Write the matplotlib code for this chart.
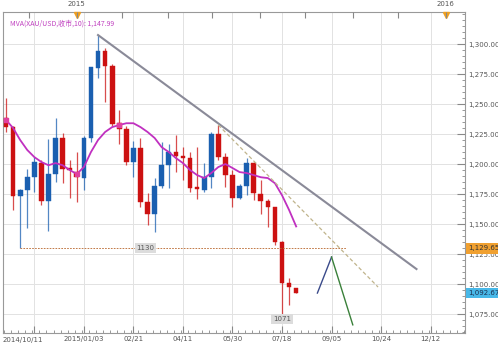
import matplotlib
matplotlib.use("Agg")
import matplotlib.pyplot as plt
import matplotlib.dates as mdates
import matplotlib.transforms as mtransforms
from matplotlib.ticker import FuncFormatter, MultipleLocator, FixedLocator
import pandas as pd

# weekly XAU/USD candles, first bar 2014-10-18
first_week = "2014-10-18"
opens = [1238, 1231, 1173, 1178, 1189, 1201, 1169, 1192, 1222, 1197, 1193, 1188,
         1222, 1280, 1294, 1282, 1234, 1229, 1202, 1213, 1168, 1158, 1182, 1199,
         1210, 1207, 1205, 1181, 1178, 1189, 1225, 1206, 1191, 1172, 1182, 1201,
         1175, 1169, 1164, 1135, 1101, 1097]
highs = [1255, 1232, 1179, 1196, 1206, 1203, 1221, 1238, 1226, 1203, 1210, 1223,
         1281, 1307.5, 1297, 1283, 1245, 1232, 1219, 1222, 1176, 1188, 1218, 1217,
         1224, 1214, 1210, 1214, 1201, 1227, 1232.5, 1209, 1195, 1183, 1205, 1202,
         1187, 1171, 1164, 1136, 1105, 1097]
lows = [1227, 1162, 1130, 1147, 1177, 1166, 1144, 1185, 1184, 1172, 1168, 1178,
        1218, 1272, 1252, 1232, 1217, 1199, 1189, 1164, 1149, 1143, 1180, 1180,
        1193, 1187, 1177, 1171, 1177, 1180, 1203, 1181, 1164, 1171, 1174, 1170,
        1158, 1147.5, 1132.5, 1071, 1082.5, 1092.67]
closes = [1231, 1173, 1178, 1189, 1202, 1169, 1192, 1222, 1196, 1195, 1189, 1222,
          1281, 1294, 1282, 1233, 1229, 1202, 1213, 1168, 1158, 1182, 1199, 1210,
          1207, 1205, 1180, 1179, 1189, 1225, 1206, 1191, 1172, 1182, 1201, 1176,
          1169, 1164, 1135, 1101, 1097.5, 1092.67]
ma10 = [1236.7, 1230, 1220, 1211.7, 1205.8, 1201.7, 1199, 1200.8, 1199, 1195,
        1191.7, 1197.5, 1210, 1220, 1226.7, 1230.8, 1232.5, 1234, 1234, 1230.8,
        1226.7, 1221.7, 1214, 1210, 1205, 1200.8, 1195, 1190.8, 1188.3, 1192.5,
        1197.5, 1200, 1196.7, 1193.3, 1192.5, 1190.8, 1189, 1188.3, 1184, 1174,
        1161.7, 1148]
ma_marks = [0, 10, 16]

# drawn lines
trend_x = ["2015-01-17", "2015-11-28"]
trend_y = [1307.5, 1112.5]
dash_x = ["2015-05-16", "2015-10-21"]
dash_y = [1232.5, 1097.5]
support_x = ["2014-11-01", "2015-09-19"]
support_y = [1130, 1130]
up_x = ["2015-08-22", "2015-09-05"]
up_y = [1092.5, 1122.5]
down_x = ["2015-09-05", "2015-09-26"]
down_y = [1122.5, 1066]

price_ticks = [1075, 1100, 1125, 1150, 1175, 1200, 1225, 1250, 1275, 1300]
bottom_ticks = ["2014-11-15", "2015-01-03", "2015-02-21", "2015-04-11", "2015-05-30",
                "2015-07-18", "2015-09-05", "2015-10-24", "2015-12-12"]
bottom_labels = ["", "2015/01/03", "02/21", "04/11", "05/30", "07/18", "09/05", "10/24", "12/12"]
top_ticks = ["2014-11-10", "2014-12-27", "2015-02-10", "2015-03-27", "2015-05-10",
             "2015-06-26", "2015-08-10", "2015-09-26", "2015-11-10", "2015-12-27"]
year_marks = {"2015": "2014-12-27", "2016": "2015-12-27"}

RED = "#cc1111"
BLUE = "#1a5fb0"
GRAY = "#555555"
FS = 5

dates = pd.date_range(first_week, periods=len(closes), freq="7D")
x = mdates.date2num(dates)
d = lambda s: mdates.date2num(pd.Timestamp(s))

fig = plt.figure(figsize=(4.98, 3.52), dpi=100)
ax = fig.add_axes([3 / 498, 19 / 352, 462 / 498, 321 / 352])
ax.set_xlim(d("2014-10-15"), d("2016-01-15"))
ax.set_ylim(1059.2, 1326.7)

# grid
ax.set_xticks([d(t) for t in bottom_ticks])
ax.set_xticklabels(bottom_labels)
ax.xaxis.set_minor_locator(MultipleLocator(7))
ax.yaxis.set_major_locator(FixedLocator(price_ticks))
ax.yaxis.set_minor_locator(MultipleLocator(5))
ax.yaxis.set_major_formatter(FuncFormatter(lambda v, p: f"{v:,.2f}"))
ax.yaxis.tick_right()
ax.grid(True, which="major", color="#e2e2e2", lw=0.7)
ax.set_axisbelow(True)
ax.tick_params(axis="both", which="both", direction="in", colors="#888888",
               labelcolor=GRAY, labelsize=FS)
ax.tick_params(axis="x", which="major", length=5, pad=2)
ax.tick_params(axis="x", which="minor", length=2.5)
ax.tick_params(axis="y", which="major", length=6, pad=2)
ax.tick_params(axis="y", which="minor", length=2.5)
for s in ax.spines.values():
    s.set_color("#999999")
    s.set_linewidth(0.8)
ax.text(0.0, -0.012, "2014/10/11", transform=ax.transAxes, ha="left", va="top",
        fontsize=FS, color=GRAY)

# top time strip
ax2 = ax.twiny()
ax2.set_xlim(ax.get_xlim())
ax2.set_xticks([d(t) for t in top_ticks])
ax2.set_xticklabels([])
ax2.tick_params(axis="x", direction="in", length=4, colors="#888888")
for s in ax2.spines.values():
    s.set_visible(False)
for lab, t in year_marks.items():
    ax.text(d(t), 1326.7 + 4, lab, ha="center", va="bottom", fontsize=FS, color=GRAY)
    ax.plot([d(t)], [1324], marker="v", ms=4, color="#f0a020", clip_on=False, zorder=6)

# candles
for xi, o, h, l, c in zip(x, opens, highs, lows, closes):
    col = BLUE if c > o else RED
    ax.vlines(xi, l, h, color=col, lw=0.9, alpha=0.75, zorder=3)
    ax.bar(xi, max(abs(c - o), 0.8), bottom=min(o, c), width=4.6, color=col,
           edgecolor=col, lw=0.3, zorder=4)

# moving average
ax.plot(x, ma10, color="#c030c0", lw=1.3, zorder=5)
ax.scatter(x[ma_marks], [ma10[i] for i in ma_marks], marker="s", s=12,
           color="#e040a0", zorder=6)

# drawn lines
ax.plot([d(t) for t in trend_x], trend_y, color="#8a8a98", lw=1.5, zorder=5)
ax.plot([d(t) for t in dash_x], dash_y, color="#c0b48c", lw=0.9, ls=(0, (3, 2)), zorder=5)
ax.plot([d(t) for t in support_x], support_y, color="#b8642a", lw=0.6, ls=(0, (2, 1.5)), zorder=5)
ax.plot([d(t) for t in up_x], up_y, color="#3a4a8a", lw=1.0, zorder=5)
ax.plot([d(t) for t in down_x], down_y, color="#3a803a", lw=1.0, zorder=5)

box = dict(boxstyle="square,pad=0.25", fc="#dcdcdc", ec="none")
ax.text(d("2015-03-05"), 1130, "1130", ha="center", va="center", fontsize=FS,
        color=GRAY, bbox=box, zorder=7)
ax.text(dates[39], 1071, "1071", ha="center", va="center", fontsize=FS,
        color=GRAY, bbox=box, zorder=7)

# price tags on the right axis
trans = mtransforms.blended_transform_factory(ax.transAxes, ax.transData)
ax.text(1.006, 1129.65, "1,129.65", transform=trans, ha="left", va="center",
        fontsize=FS, color="#333333", zorder=8, clip_on=False,
        bbox=dict(boxstyle="square,pad=0.3", fc="#f0a030", ec="none"))
ax.text(1.006, 1092.67, "1,092.67", transform=trans, ha="left", va="center",
        fontsize=FS, color="#1a3050", zorder=8, clip_on=False,
        bbox=dict(boxstyle="square,pad=0.3", fc="#48b8e8", ec="none"))

ax.text(0.015, 0.975, "MVA(XAU/USD,收市,10): 1,147.99", transform=ax.transAxes,
        ha="left", va="top", fontsize=FS, color="#c040c0",
        family=["Noto Sans CJK SC", "DejaVu Sans"])

fig.savefig("out.png", dpi=100)
